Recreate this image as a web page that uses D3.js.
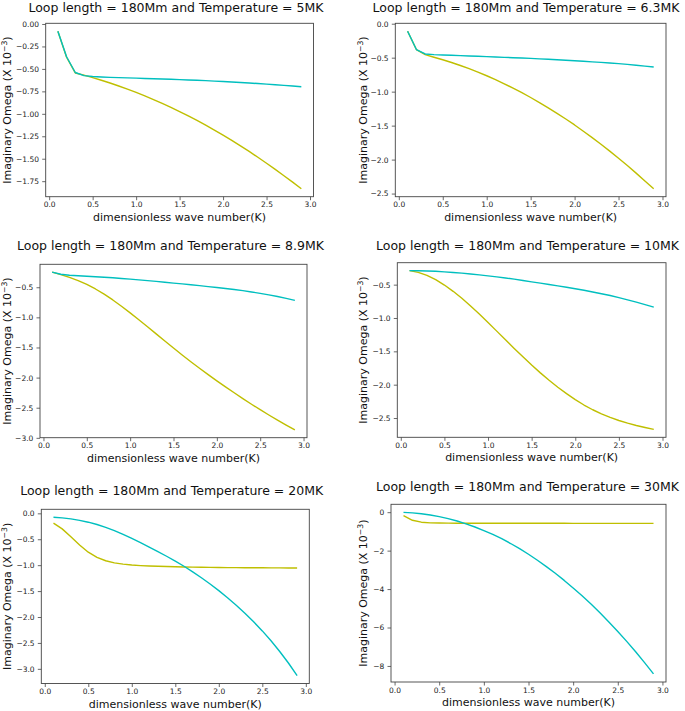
<!DOCTYPE html>
<html><head><meta charset="utf-8">
<script src="https://cdn.jsdelivr.net/npm/d3@7"></script>
<style>
body{margin:0;background:#fff}
svg{display:block}
text{font-family:"DejaVu Sans",sans-serif}
</style>
</head><body>
<svg id="chart" width="685" height="711"></svg>
<script>
// ---------- data ----------
const kValues = [0.1,0.2,0.3,0.4,0.5,0.6,0.7,0.8,0.9,1.0,1.1,1.2,1.3,1.4,1.5,1.6,1.7,1.8,1.9,2.0,2.1,2.2,2.3,2.4,2.5,2.6,2.7,2.8,2.9];

const titles = [
  "Loop length = 180Mm and Temperature = 5MK",
  "Loop length = 180Mm and Temperature = 6.3MK",
  "Loop length = 180Mm and Temperature = 8.9MK",
  "Loop length = 180Mm and Temperature = 10MK",
  "Loop length = 180Mm and Temperature = 20MK",
  "Loop length = 180Mm and Temperature = 30MK"
];

const yellow5MK = [-0.08,-0.37,-0.545,-0.57,-0.597,-0.626,-0.657,-0.69,-0.725,-0.761,-0.80,-0.841,-0.884,-0.928,-0.975,-1.024,-1.074,-1.127,-1.181,-1.238,-1.296,-1.357,-1.419,-1.484,-1.55,-1.619,-1.689,-1.761,-1.835];
const cyan5MK   = [-0.08,-0.365,-0.54,-0.575,-0.585,-0.59,-0.594,-0.597,-0.60,-0.603,-0.606,-0.609,-0.612,-0.615,-0.619,-0.623,-0.627,-0.631,-0.636,-0.641,-0.646,-0.651,-0.657,-0.663,-0.669,-0.676,-0.683,-0.69,-0.698];

const yellow6MK = [-0.11,-0.38,-0.455,-0.494,-0.531,-0.571,-0.615,-0.662,-0.712,-0.766,-0.823,-0.884,-0.948,-1.016,-1.086,-1.16,-1.238,-1.319,-1.403,-1.49,-1.582,-1.676,-1.774,-1.875,-1.98,-2.088,-2.199,-2.314,-2.43];
const cyan6MK   = [-0.11,-0.38,-0.445,-0.455,-0.46,-0.465,-0.47,-0.475,-0.48,-0.485,-0.49,-0.495,-0.50,-0.505,-0.51,-0.517,-0.524,-0.531,-0.538,-0.545,-0.553,-0.561,-0.569,-0.578,-0.588,-0.599,-0.611,-0.624,-0.638];

const yellow9MK = [-0.25,-0.29,-0.336,-0.39,-0.454,-0.529,-0.615,-0.711,-0.815,-0.925,-1.039,-1.156,-1.274,-1.392,-1.509,-1.624,-1.736,-1.845,-1.951,-2.054,-2.154,-2.252,-2.348,-2.442,-2.533,-2.621,-2.706,-2.788,-2.867];
const cyan9MK   = [-0.25,-0.285,-0.30,-0.31,-0.318,-0.326,-0.334,-0.343,-0.354,-0.365,-0.377,-0.39,-0.403,-0.417,-0.431,-0.445,-0.459,-0.474,-0.489,-0.505,-0.521,-0.538,-0.557,-0.578,-0.601,-0.626,-0.654,-0.684,-0.717];

const yellow10MK = [-0.29,-0.316,-0.361,-0.426,-0.506,-0.60,-0.705,-0.819,-0.941,-1.067,-1.197,-1.327,-1.457,-1.583,-1.706,-1.823,-1.934,-2.038,-2.135,-2.224,-2.305,-2.376,-2.438,-2.491,-2.537,-2.577,-2.612,-2.642,-2.67];
const cyan10MK   = [-0.29,-0.292,-0.295,-0.30,-0.308,-0.318,-0.328,-0.34,-0.354,-0.368,-0.384,-0.40,-0.418,-0.438,-0.458,-0.478,-0.498,-0.518,-0.54,-0.562,-0.585,-0.61,-0.636,-0.663,-0.695,-0.728,-0.763,-0.799,-0.836];

const yellow20MK = [-0.19,-0.30,-0.45,-0.61,-0.75,-0.85,-0.915,-0.955,-0.98,-0.997,-1.008,-1.016,-1.022,-1.027,-1.031,-1.035,-1.038,-1.041,-1.043,-1.045,-1.047,-1.048,-1.049,-1.05,-1.051,-1.052,-1.053,-1.054,-1.055];
const cyan20MK   = [-0.075,-0.087,-0.107,-0.135,-0.171,-0.216,-0.27,-0.333,-0.405,-0.485,-0.567,-0.651,-0.738,-0.828,-0.921,-1.021,-1.128,-1.242,-1.363,-1.491,-1.627,-1.772,-1.927,-2.092,-2.268,-2.458,-2.665,-2.887,-3.13];

const yellow30MK = [-0.18,-0.42,-0.52,-0.555,-0.565,-0.57,-0.572,-0.574,-0.575,-0.576,-0.577,-0.577,-0.578,-0.578,-0.578,-0.579,-0.579,-0.579,-0.579,-0.58,-0.58,-0.58,-0.58,-0.58,-0.58,-0.58,-0.58,-0.58,-0.58];
const cyan30MK   = [-0.01,-0.035,-0.08,-0.145,-0.23,-0.335,-0.46,-0.605,-0.77,-0.955,-1.155,-1.38,-1.63,-1.90,-2.19,-2.50,-2.83,-3.18,-3.55,-3.94,-4.35,-4.78,-5.235,-5.71,-6.205,-6.72,-7.26,-7.825,-8.415];

const xTicks = [0.0,0.5,1.0,1.5,2.0,2.5,3.0];
const yTicks5MK  = [0,-0.25,-0.5,-0.75,-1.0,-1.25,-1.5,-1.75];
const yTicks6MK  = [0,-0.5,-1.0,-1.5,-2.0,-2.5];
const yTicks9MK  = [-0.5,-1.0,-1.5,-2.0,-2.5,-3.0];
const yTicks10MK = [-0.5,-1.0,-1.5,-2.0,-2.5];
const yTicks20MK = [0,-0.5,-1.0,-1.5,-2.0,-2.5,-3.0];
const yTicks30MK = [0,-2,-4,-6,-8];

const yellowColor = "#bfbf00";
const cyanColor = "#00bfbf";

// ---------- layout ----------
const panels = [
  {title:titles[0], yellow:yellow5MK,  cyan:cyan5MK,  yTicks:yTicks5MK,  fmt:".2f", L:45.7,  R:313.5, T:23.3,  B:196.7, tx:176,   ty:12,  lx:7},
  {title:titles[1], yellow:yellow6MK,  cyan:cyan6MK,  yTicks:yTicks6MK,  fmt:".1f", L:395.3, R:666,   T:23.3,  B:196.7, tx:526,   ty:12,  lx:363},
  {title:titles[2], yellow:yellow9MK,  cyan:cyan9MK,  yTicks:yTicks9MK,  fmt:".1f", L:40,    R:307,   T:264.3, B:437.7, tx:170.5, ty:250, lx:7},
  {title:titles[3], yellow:yellow10MK, cyan:cyan10MK, yTicks:yTicks10MK, fmt:".1f", L:397.3, R:666,   T:262.7, B:437.3, tx:527.5, ty:250, lx:363},
  {title:titles[4], yellow:yellow20MK, cyan:cyan20MK, yTicks:yTicks20MK, fmt:".1f", L:41.3,  R:309.3, T:509.3, B:683.5, tx:171.7, ty:495, lx:7},
  {title:titles[5], yellow:yellow30MK, cyan:cyan30MK, yTicks:yTicks30MK, fmt:".0f", L:391,   R:666,   T:504.3, B:682,   tx:527.5, ty:491, lx:363}
];

const svg = d3.select("#chart");
svg.append("rect").attr("width",685).attr("height",711).attr("fill","#fff");

panels.forEach(p => {
  const kExt = d3.extent(kValues);
  const kPad = (kExt[1]-kExt[0])*0.05;
  const x = d3.scaleLinear().domain([kExt[0]-kPad, kExt[1]+kPad]).range([p.L, p.R]);
  const yExt = d3.extent(p.yellow.concat(p.cyan));
  const yPad = (yExt[1]-yExt[0])*0.05;
  const y = d3.scaleLinear().domain([yExt[0]-yPad, yExt[1]+yPad]).range([p.B, p.T]);

  const g = svg.append("g");

  const line = d3.line().x((d,i)=>x(kValues[i])).y(d=>y(d));
  g.append("path").attr("d", line(p.yellow)).attr("fill","none")
    .attr("stroke", yellowColor).attr("stroke-width",1.4).attr("stroke-linejoin","round");
  g.append("path").attr("d", line(p.cyan)).attr("fill","none")
    .attr("stroke", cyanColor).attr("stroke-width",1.4).attr("stroke-linejoin","round");

  const xa = g.append("g").attr("transform",`translate(0,${p.B})`)
    .call(d3.axisBottom(x).tickValues(xTicks).tickFormat(d3.format(".1f")).tickSize(3.5).tickPadding(1.8));
  const ya = g.append("g").attr("transform",`translate(${p.L},0)`)
    .call(d3.axisLeft(y).tickValues(p.yTicks).tickFormat(d3.format(p.fmt)).tickSize(3.5).tickPadding(3.2));
  [xa, ya].forEach(a => {
    a.select(".domain").remove();
    a.selectAll("line").attr("stroke","#444").attr("stroke-width",0.8);
    a.selectAll("text").attr("font-size","7.5px").attr("fill","#222")
      .attr("font-family","'DejaVu Sans',sans-serif");
  });

  g.append("rect").attr("x",p.L).attr("y",p.T).attr("width",p.R-p.L).attr("height",p.B-p.T)
    .attr("fill","none").attr("stroke","#444").attr("stroke-width",0.9);

  g.append("text").attr("x",p.tx).attr("y",p.ty).attr("text-anchor","middle")
    .attr("font-size","12.5px").attr("fill","#111").text(p.title);

  g.append("text").attr("x",(p.L+p.R)/2).attr("y",p.B+24).attr("text-anchor","middle")
    .attr("font-size","11px").attr("fill","#111").text("dimensionless wave number(K)");

  const yl = g.append("text")
    .attr("transform",`translate(${p.lx},${(p.T+p.B)/2}) rotate(-90)`)
    .attr("text-anchor","middle").attr("dy","0.35em")
    .attr("font-size","11px").attr("fill","#111");
  yl.append("tspan").text("Imaginary Omega (X 10");
  yl.append("tspan").attr("font-size","7.7px").attr("dy","-0.45em").text("\u22123");
  yl.append("tspan").attr("dy","0.3em").text(")");
});
</script>
</body></html>
